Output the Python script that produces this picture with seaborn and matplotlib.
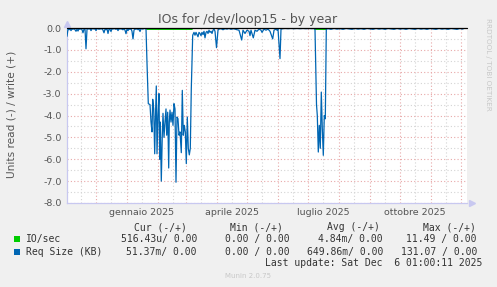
import matplotlib
matplotlib.use("Agg")
import matplotlib.pyplot as plt
import matplotlib.dates as mdates
from matplotlib.ticker import MultipleLocator, FuncFormatter, NullFormatter
from matplotlib.patches import Rectangle
import seaborn as sns
import pandas as pd

# ---------------- data ----------------
start_date = "2024-11-02"
span_days = 400

req_days = [0, 1, 2, 3, 4, 5, 6, 7, 8, 9, 10, 11, 12, 13, 14, 15, 16, 17, 18, 19,
            20, 21, 22, 23, 24, 25, 26, 27, 28, 29, 30, 31, 32, 33, 34, 35, 36, 37, 38, 39,
            40, 41, 42, 43, 44, 45, 46, 47, 48, 49, 50, 51, 52, 53, 54, 55, 56, 57, 58, 59,
            60, 61, 62, 63, 64, 65, 66, 67, 68, 69, 70, 71, 72, 73, 74, 75, 76, 77, 78, 79,
            80, 81.3, 83, 84, 85, 85.7, 86.7, 87.7, 88.3, 89.3, 90, 91, 92, 92.7, 93.3, 94.3,
            95.3, 96, 97, 98, 99, 99.7, 100.7, 101.7, 102.3, 103, 104, 105, 106, 107, 108, 109,
            110, 111, 112, 113, 114.3, 115.3, 116.3, 117.3, 118.3, 119.3, 120.3, 121.3, 122.3,
            123.3, 124.3, 125.7, 127, 128, 129, 130, 131, 132,
            133, 134, 135, 136, 137, 138, 139, 140, 141, 142, 143, 144, 145, 146, 147, 148,
            149.5, 151, 152, 154, 156, 158, 160, 162, 164, 166, 168, 170, 172, 174.7, 176, 178,
            180, 182, 183, 184, 186.3, 188, 190, 192, 194, 195, 197, 199, 201, 203, 205.7, 207,
            209, 210, 211, 213, 214, 216, 218, 221, 224, 227, 230, 233, 236, 239, 242, 245, 247,
            248, 249.5, 250.3, 251.3, 252.3, 253.3, 254.3, 255.3, 256.3, 257.3, 258.3, 259.3,
            261, 264, 267, 270, 273, 276, 279, 282, 285, 288, 291, 294, 297, 300, 303, 306,
            309, 312, 315, 318, 321, 324, 327, 330, 333, 336, 339, 342, 345, 348, 351, 354,
            357, 360, 363, 366, 369, 372, 375, 378, 381, 384, 387, 390, 393, 396]
req_values = [-0.38, -0.05, -0.08, -0.03, -0.12, -0.04, -0.06, -0.02, -0.08, -0.15, -0.05, -0.14, -0.03, -0.06, -0.02, -0.08, -0.22, -0.05, -0.04, -0.95,
              -0.06, -0.03, -0.05, -0.02, -0.12, -0.04, -0.02, -0.05, -0.03, -0.12, -0.04, -0.02, -0.06, -0.03, -0.05, -0.02, -0.10, -0.22, -0.05, -0.08,
              -0.03, -0.25, -0.05, -0.06, -0.16, -0.03, -0.05, -0.02, -0.04, -0.06, -0.02, -0.12, -0.03, -0.05, -0.02, -0.06, -0.08, -0.03, -0.10, -0.26,
              -0.05, -0.12, -0.04, -0.06, -0.03, -0.15, -0.50, -0.10, -0.04, -0.06, -0.02, -0.08, -0.05, -0.16, -0.04, -0.03, -0.05, -0.02, -0.03, -0.02,
              -1.6, -3.46, -3.5, -4.3, -4.75, -3.26, -3.7, -5.75, -4.3, -2.65, -5.75, -4.0, -3.0, -6.0, -4.3, -7.0,
              -4.9, -3.9, -5.0, -4.3, -3.7, -4.9, -3.85, -6.4, -4.3, -3.75, -4.3, -3.85, -4.45, -3.46, -3.7, -7.05,
              -4.07, -4.15, -4.9, -4.75, -5.7, -2.85, -4.9, -4.45, -4.75, -6.2, -4.07, -5.5, -5.8,
              -5.5, -2.77, -0.33, -0.2, -0.33, -0.2, -0.3, -0.4, -0.2,
              -0.25, -0.35, -0.2, -0.3, -0.15, -0.45, -0.2, -0.15, -0.25, -0.1, -0.2, -0.15, -0.25, -0.1, -0.05, -0.15,
              -0.9, -0.1, -0.05, -0.03, -0.08, -0.03, -0.05, -0.02, -0.06, -0.03, -0.05, -0.08, -0.1, -0.55, -0.1, -0.25,
              -0.1, -0.15, -0.35, -0.1, -0.45, -0.1, -0.15, -0.05, -0.1, -0.2, -0.05, -0.1, -0.05, -0.15, -0.5, -0.1,
              -0.05, -0.1, -0.05, -1.4, -0.05, -0.03, -0.02, -0.03, -0.02, -0.03, -0.02, -0.03, -0.02, -0.03, -0.02, -0.03, -0.02,
              -0.05, -3.5, -4.0, -5.67, -4.45, -5.5, -2.93, -4.6, -5.82, -4.0, -4.15, -0.05,
              -0.03, -0.06, -0.02, -0.05, -0.03, -0.06, -0.02, -0.04, -0.06, -0.02, -0.05, -0.03, -0.06, -0.02, -0.04, -0.06,
              -0.02, -0.05, -0.03, -0.06, -0.02, -0.04, -0.06, -0.02, -0.05, -0.03, -0.06, -0.02, -0.04, -0.06, -0.02, -0.05,
              -0.03, -0.06, -0.02, -0.04, -0.06, -0.02, -0.05, -0.03, -0.06, -0.02, -0.04, -0.06, -0.02, -0.05]

io_days = [0, 78, 80, 125, 126, 246, 248, 259, 261, 398]
io_values = [0.0, 0.0, -0.06, -0.06, 0.0, 0.0, -0.06, -0.06, 0.0, 0.0]

month_names = {1: "gennaio", 4: "aprile", 7: "luglio", 10: "ottobre"}

title_text = "IOs for /dev/loop15 - by year"
ylabel_text = "Units read (-) / write (+)"
side_text = "RRDTOOL / TOBI OETIKER"
legend_headers = ["Cur (-/+)", "Min (-/+)", "Avg (-/+)", "Max (-/+)"]
legend_names = ["IO/sec", "Req Size (KB)"]
legend_rows = [["516.43u/ 0.00", "0.00 / 0.00", "4.84m/ 0.00", "11.49 / 0.00"],
               ["51.37m/ 0.00", "0.00 / 0.00", "649.86m/ 0.00", "131.07 / 0.00"]]
last_update = "Last update: Sat Dec  6 01:00:11 2025"
footer = "Munin 2.0.75"

# ---------------- style ----------------
sns.set_style("white")
plt.rcParams["font.family"] = ["DejaVu Sans"]

W, H = 497, 287
fig = plt.figure(figsize=(W / 100, H / 100), dpi=100)
fig.patch.set_facecolor("#F0F0F0")

def fx(x):
    return x / W

def fy(y):
    return 1 - y / H

ax = fig.add_axes([fx(67), fy(203), (467 - 67) / W, (203 - 28) / H])
ax.set_facecolor("white")

t0 = pd.Timestamp(start_date)
req_df = pd.DataFrame({"date": t0 + pd.to_timedelta(req_days, unit="D"), "value": req_values})
io_df = pd.DataFrame({"date": t0 + pd.to_timedelta(io_days, unit="D"), "value": io_values})

BLUE = "#0066B3"
GREEN = "#00CC00"
sns.lineplot(data=io_df, x="date", y="value", ax=ax, color=GREEN, lw=0.9,
             estimator=None, sort=False, zorder=3)
sns.lineplot(data=req_df, x="date", y="value", ax=ax, color=BLUE, lw=0.9,
             estimator=None, sort=False, zorder=4)
ax.axhline(0, color="black", lw=0.9, zorder=5, clip_on=False)

ax.set_xlim(t0, t0 + pd.Timedelta(days=span_days))
ax.set_ylim(-8, 0)
ax.set_xlabel("")
ax.set_ylabel("")

RED_GRID = "#E8A8A8"
GRAY_GRID = "#D4D4D4"
AXIS_COL = "#C8C8F0"

ax.xaxis.set_major_locator(mdates.MonthLocator(bymonthday=1))
ax.xaxis.set_major_formatter(NullFormatter())
ax.xaxis.set_minor_locator(mdates.MonthLocator(bymonthday=16))

def month_fmt(v, pos):
    d = mdates.num2date(v)
    if d.month in month_names:
        return f"{month_names[d.month]} {d.year}"
    return ""

ax.xaxis.set_minor_formatter(FuncFormatter(month_fmt))
ax.yaxis.set_major_locator(MultipleLocator(1))
ax.yaxis.set_minor_locator(MultipleLocator(0.5))
ax.yaxis.set_major_formatter(FuncFormatter(lambda v, p: f"{v:.1f}".replace("-0.0", "0.0")))

ax.grid(which="major", color=RED_GRID, ls=(0, (1, 2)), lw=0.8)
ax.grid(which="minor", color=GRAY_GRID, ls=(0, (1, 2)), lw=0.8)

ax.tick_params(axis="x", which="major", direction="inout", length=3, color="#E89090", width=0.8)
ax.tick_params(axis="x", which="minor", direction="inout", length=2, color="#C0C0C0", width=0.8,
               labelsize=6.8, labelcolor="#555555", pad=2.5)
ax.tick_params(axis="y", which="major", direction="in", length=2, color="#C0C0C0",
               labelsize=6.8, labelcolor="#555555", pad=4)
ax.tick_params(axis="y", which="minor", length=0)

for s in ["top", "right"]:
    ax.spines[s].set_visible(False)
for s in ["left", "bottom"]:
    ax.spines[s].set_color(AXIS_COL)
    ax.spines[s].set_linewidth(0.9)

# arrows
ax.plot([0], [1.025], marker="^", ms=4, color=AXIS_COL, transform=ax.transAxes, clip_on=False)
ax.plot([1.013], [0], marker=">", ms=4, color=AXIS_COL, transform=ax.transAxes, clip_on=False)

# titles / labels
fig.text(fx(248), fy(19), title_text, ha="center", va="center", fontsize=9, color="#555555")
fig.text(fx(12), fy(114), ylabel_text, rotation=90, ha="center", va="center",
         fontsize=7.6, color="#555555")
fig.text(fx(488), fy(18), side_text, rotation=270, ha="center", va="top",
         fontsize=5.2, color="#C8C8C8")

MONO = "DejaVu Sans Mono"
LEG_COL = "#333333"
hdr_right = [187, 283, 380, 476]
row_right = [197, 290, 383, 477]
for h, xr in zip(legend_headers, hdr_right):
    fig.text(fx(xr), fy(227), h, ha="right", va="center", family=MONO, fontsize=7, color=LEG_COL)

row_y = [239, 252]
swatch = [GREEN, BLUE]
for name, vals, yy, col in zip(legend_names, legend_rows, row_y, swatch):
    fig.patches.append(Rectangle((fx(14), fy(yy + 3)), 6 / W, 6 / H, transform=fig.transFigure,
                                 facecolor=col, edgecolor="none"))
    fig.text(fx(26), fy(yy), name, ha="left", va="center", family=MONO, fontsize=7, color=LEG_COL)
    for v, xr in zip(vals, row_right):
        fig.text(fx(xr), fy(yy), v, ha="right", va="center", family=MONO, fontsize=7, color=LEG_COL)

fig.text(fx(482), fy(263), last_update, ha="right", va="center", family=MONO, fontsize=7, color=LEG_COL)
fig.text(fx(248), fy(276), footer, ha="center", va="center", fontsize=5, color="#C8C8C8")

fig.savefig("out.png", dpi=100, facecolor=fig.get_facecolor())
